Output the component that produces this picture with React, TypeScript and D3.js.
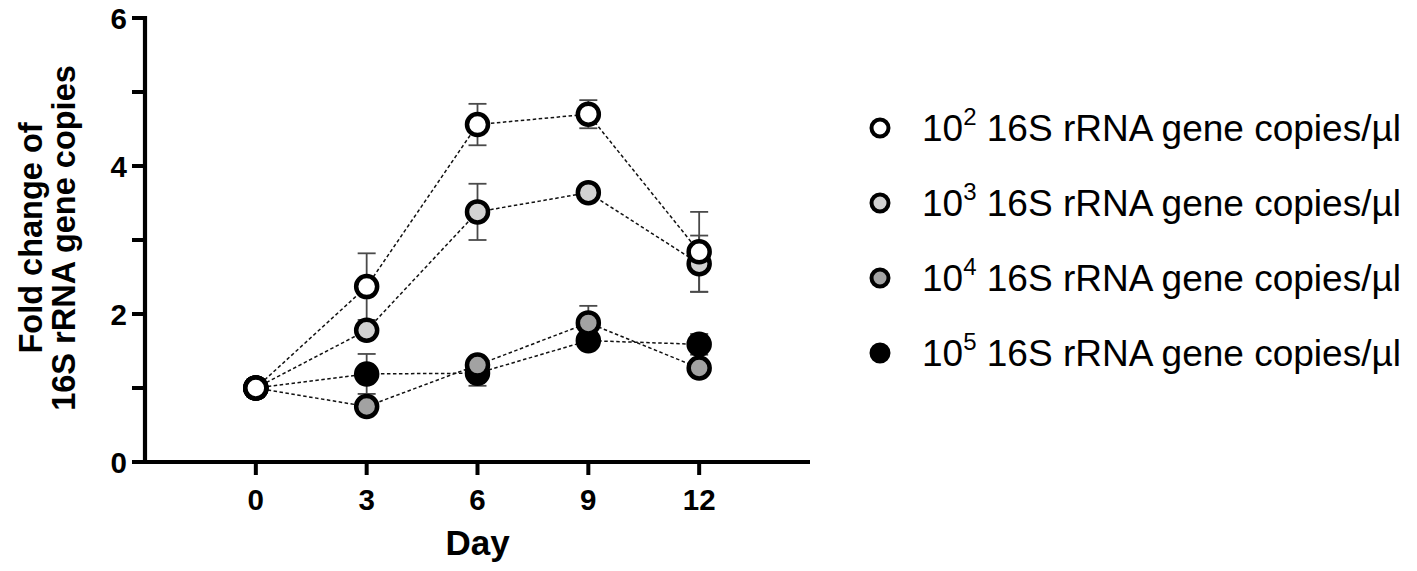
import React from 'react';
import * as d3 from 'd3';

// ---- data ----
const days = [0, 3, 6, 9, 12];
const exponents = ['2', '3', '4', '5'];
const mean1 = [1.0, 2.37, 4.56, 4.7, 2.84];
const err1 = [0.12, 0.45, 0.28, 0.19, 0.54];
const mean2 = [1.0, 1.78, 3.38, 3.64, 2.68];
const err2 = [0.12, 0.08, 0.38, 0.05, 0.38];
const mean3 = [1.0, 0.75, 1.31, 1.88, 1.27];
const err3 = [0.12, 0.08, 0.08, 0.23, 0.08];
const mean4 = [1.0, 1.19, 1.2, 1.64, 1.59];
const err4 = [0.12, 0.27, 0.17, 0.08, 0.14];
const yTicks = [0, 1, 2, 3, 4, 5, 6];
const yTickLabels = ['0', '', '2', '', '4', '', '6'];
const xTicks = [0, 3, 6, 9, 12];

const means = [mean1, mean2, mean3, mean4];
const errs = [err1, err2, err3, err4];
const fills = ['#ffffff', '#d2d2d2', '#a2a2a2', '#000000'];

const FONT = '"Liberation Sans", Arial, Helvetica, sans-serif';

export default function App() {
  const W = 1417;
  const H = 571;
  const x = d3.scaleLinear().domain([-3, 15]).range([145, 810]);
  const y = d3.scaleLinear().domain([0, 6]).range([462, 18]);
  const line = d3
    .line<number>()
    .x((_, i) => x(days[i]))
    .y((d) => y(d));

  const order = [3, 2, 1, 0]; // draw black first, white last
  const r = 10.5;
  const capW = 9;

  return (
    <svg
      width={W}
      height={H}
      style={{ position: 'absolute', left: 0, top: 0, background: '#fff' }}
      fontFamily={FONT}
    >
      {/* dashed connecting lines */}
      {order.map((si) => (
        <path
          key={'l' + si}
          d={line(means[si]) || ''}
          fill="none"
          stroke="#111"
          strokeWidth={1.5}
          strokeDasharray="3.5,2.5"
        />
      ))}
      {/* error bars */}
      {order.map((si) =>
        means[si].map((m, i) => {
          const cx = x(days[i]);
          const yt = y(m + errs[si][i]);
          const yb = y(m - errs[si][i]);
          return (
            <g key={'e' + si + '-' + i} stroke="#4a4a4a" strokeWidth={1.8}>
              <line x1={cx} x2={cx} y1={yt} y2={yb} />
              <line x1={cx - capW} x2={cx + capW} y1={yt} y2={yt} />
              <line x1={cx - capW} x2={cx + capW} y1={yb} y2={yb} />
            </g>
          );
        })
      )}
      {/* markers */}
      {order.map((si) =>
        means[si].map((m, i) => (
          <circle
            key={'c' + si + '-' + i}
            cx={x(days[i])}
            cy={y(m)}
            r={r}
            fill={fills[si]}
            stroke="#000"
            strokeWidth={4.5}
          />
        ))
      )}

      {/* y axis */}
      <line x1={145} x2={145} y1={y(6) - 2} y2={y(0) + 2} stroke="#000" strokeWidth={4.2} />
      {yTicks.map((t, i) => (
        <g key={'yt' + t}>
          <line x1={132} x2={145} y1={y(t)} y2={y(t)} stroke="#000" strokeWidth={4} />
          {yTickLabels[i] && (
            <text
              x={127}
              y={y(t) + 10.5}
              textAnchor="end"
              fontSize={29.5}
              fontWeight="bold"
              fill="#000"
            >
              {yTickLabels[i]}
            </text>
          )}
        </g>
      ))}

      {/* x axis */}
      <line x1={143} x2={x(15)} y1={462} y2={462} stroke="#000" strokeWidth={4.2} />
      {xTicks.map((t) => (
        <g key={'xt' + t}>
          <line x1={x(t)} x2={x(t)} y1={462} y2={475} stroke="#000" strokeWidth={4} />
          <text x={x(t)} y={510} textAnchor="middle" fontSize={29.5} fontWeight="bold" fill="#000">
            {t}
          </text>
        </g>
      ))}
      <text x={x(6)} y={555} textAnchor="middle" fontSize={35} fontWeight="bold" fill="#000">
        Day
      </text>

      {/* y label */}
      <g transform="translate(42,238) rotate(-90)">
        <text x={0} y={0} textAnchor="middle" fontSize={32.5} fontWeight="bold" fill="#000">
          Fold change of
        </text>
        <text x={0} y={33} textAnchor="middle" fontSize={32.5} fontWeight="bold" fill="#000">
          16S rRNA gene copies
        </text>
      </g>

      {/* legend */}
      {exponents.map((e, i) => {
        const ly = 128 + i * 75;
        return (
          <g key={'lg' + e}>
            <circle cx={880} cy={ly} r={8.5} fill={fills[i]} stroke="#000" strokeWidth={4} />
            <text x={922} y={ly + 13} fontSize={37} fill="#000">
              10
              <tspan fontSize={24} dy={-16}>
                {e}
              </tspan>
              <tspan dy={16}> 16S rRNA gene copies/µl</tspan>
            </text>
          </g>
        );
      })}
    </svg>
  );
}
